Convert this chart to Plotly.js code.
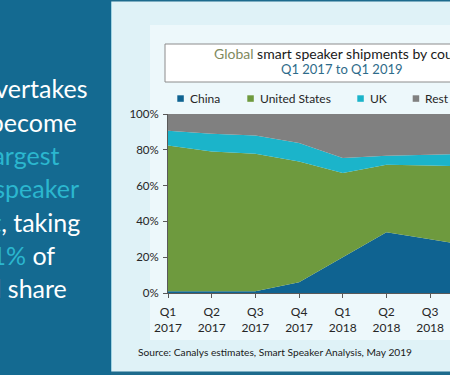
<!DOCTYPE html>
<html>
<head>
<meta charset="utf-8">
<script src="https://cdn.plot.ly/plotly-3.0.1.min.js"></script>
<style>html,body{margin:0;padding:0;background:#dff2f7;}#chart{width:450px;height:375px;}</style>
</head>
<body>
<div id="chart"></div>
<script>
// ---- data ----
const quarters = ["Q1<br>2017","Q2<br>2017","Q3<br>2017","Q4<br>2017","Q1<br>2018","Q2<br>2018","Q3<br>2018","Q4<br>2018","Q1<br>2019"];
const seriesNames = ["China", "United States", "UK", "Rest of World"];
const china = [1, 1, 1, 6, 20, 34, 30, 26, 51];
const unitedStates = [81.4, 78, 76.8, 67.5, 47, 37.6, 41.2, 44.5, 24];
const uk = [8.2, 10, 10.2, 10.3, 8.4, 5.1, 6, 7.5, 4];
const restOfWorld = [9.4, 11, 12, 16.2, 24.6, 23.3, 22.8, 22, 21];
const yTicks = [0, 20, 40, 60, 80, 100];
const yTickText = ["0%", "20%", "40%", "60%", "80%", "100%"];
const titleLine1Lead = "Global";
const titleLine1Rest = " smart speaker shipments by country";
const titleLine2 = "Q1 2017 to Q1 2019";
const sourceText = "Source: Canalys estimates, Smart Speaker Analysis, May 2019";

// ---- styling ----
const colors = ["#0f6391", "#6e9a3e", "#1bb4ca", "#808080"];
const W = 450, H = 375;
const L = 168, R = 0, T = 114, B = 82;
const pw = W - L - R, ph = H - T - B;
const px = x => (x - L) / pw;        // pixel -> paper x
const py = y => (H - B - y) / ph;    // pixel -> paper y
const FONT = "Lato, 'Open Sans', sans-serif";
const CYAN = "#2bb7cf";

const valueSets = [china, unitedStates, uk, restOfWorld];
const traces = valueSets.map((vals, i) => ({
  type: "scatter",
  x: quarters,
  y: vals,
  name: seriesNames[i],
  stackgroup: "one",
  mode: "none",
  fillcolor: colors[i],
  hoverinfo: "skip",
  showlegend: false
}));

const shapes = [
  // light sheen on background
  {type:"rect", xref:"paper", yref:"paper", x0:px(150), x1:px(460), y0:py(340), y1:py(25), fillcolor:"rgba(255,255,255,0.45)", line:{width:0}, layer:"below"},
  // left dark panel
  {type:"rect", xref:"paper", yref:"paper", x0:px(-5), x1:px(111), y0:py(380), y1:py(-5), fillcolor:"#146a91", line:{width:0}, layer:"below"},
  {type:"line", xref:"paper", yref:"paper", x0:px(111.5), x1:px(111.5), y0:py(380), y1:py(-5), line:{color:"#9fd3e2", width:1}, layer:"below"},
  // top edge line & bottom band
  {type:"rect", xref:"paper", yref:"paper", x0:px(111), x1:px(460), y0:py(1.5), y1:py(-5), fillcolor:"#1d6b8d", line:{width:0}, layer:"below"},
  {type:"rect", xref:"paper", yref:"paper", x0:px(111), x1:px(460), y0:py(380), y1:py(371.5), fillcolor:"#1d6b8d", line:{width:0}, layer:"below"},
  // title box
  {type:"rect", xref:"paper", yref:"paper", x0:px(165), x1:px(470), y0:py(82), y1:py(44), fillcolor:"#ffffff", line:{color:"#8c8c8c", width:1}, layer:"below"}
];

// legend squares + labels
const legendMarkX = [180.3, 250.3, 360.3, 415.7];
const legendTextX = [188.3, 258.3, 368.3, 423.3];
const legendY = 98.3;
legendMarkX.forEach((mx, i) => {
  shapes.push({type:"rect", xref:"paper", yref:"paper", x0:px(mx-3), x1:px(mx+3.5), y0:py(legendY+3.5), y1:py(legendY-3), fillcolor:colors[i], line:{width:0}});
});

const annotations = [];
seriesNames.forEach((n, i) => {
  annotations.push({xref:"paper", yref:"paper", x:px(legendTextX[i]), y:py(legendY), xanchor:"left", yanchor:"middle",
    text:n, showarrow:false, font:{family:FONT, size:12, color:"#262626"}});
});

// chart title
annotations.push({xref:"paper", yref:"paper", x:px(211.7), y:py(53.5), xanchor:"left", yanchor:"middle", showarrow:false,
  text:'<span style="color:#7f8a5e">' + titleLine1Lead + '</span>' + titleLine1Rest, font:{family:FONT, size:14, color:"#1a1a1a"}});
annotations.push({xref:"paper", yref:"paper", x:px(341.7), y:py(69), xanchor:"center", yanchor:"middle", showarrow:false,
  text:titleLine2, font:{family:FONT, size:13, color:"#2e6b8a"}});

// source
annotations.push({xref:"paper", yref:"paper", x:px(135.7), y:py(351.7), xanchor:"left", yanchor:"middle", showarrow:false,
  text:sourceText, font:{family:FONT, size:10.2, color:"#1a1a1a"}});

// left panel headline (clipped at the left edge)
const headline = [
  {t:'China overtakes', r:90, y:88.3},
  {t:'US to become', r:79, y:121.7},
  {t:'the <span style="color:' + CYAN + '">largest</span>', r:60.7, y:155},
  {t:'<span style="color:' + CYAN + '">smart speaker</span>', r:80.7, y:188.3},
  {t:'<span style="color:' + CYAN + '">market</span>, taking', r:81.7, y:221.7},
  {t:'<span style="color:' + CYAN + '">51%</span> of', r:57.3, y:255},
  {t:'global share', r:69, y:288.3}
];
headline.forEach(h => {
  annotations.push({xref:"paper", yref:"paper", x:px(h.r), y:py(h.y), xanchor:"right", yanchor:"middle", showarrow:false,
    text:h.t, font:{family:FONT, size:25, color:"#ffffff"}});
});

const layout = {
  width: W, height: H,
  margin: {l:L, r:R, t:T, b:B, pad:0},
  paper_bgcolor: "#dff2f7",
  plot_bgcolor: "rgba(0,0,0,0)",
  showlegend: false,
  xaxis: {
    type: "category", range: [0, 6.455], showgrid: false, zeroline: false,
    showline: true, linecolor: "#595959", linewidth: 1,
    ticks: "outside", ticklen: 4, tickcolor: "#595959",
    tickfont: {family: FONT, size: 12, color: "#262626"}, ticklabelstandoff: 4
  },
  yaxis: {
    range: [0, 100], tickmode: "array", tickvals: yTicks, ticktext: yTickText, showgrid: false, zeroline: false,
    showline: true, linecolor: "#595959", linewidth: 1,
    ticks: "outside", ticklen: 4, tickcolor: "#595959",
    tickfont: {family: FONT, size: 11.5, color: "#262626"}, ticklabelstandoff: 2
  },
  shapes: shapes,
  annotations: annotations
};

Plotly.newPlot("chart", traces, layout, {staticPlot: true, displayModeBar: false});
</script>
</body>
</html>
